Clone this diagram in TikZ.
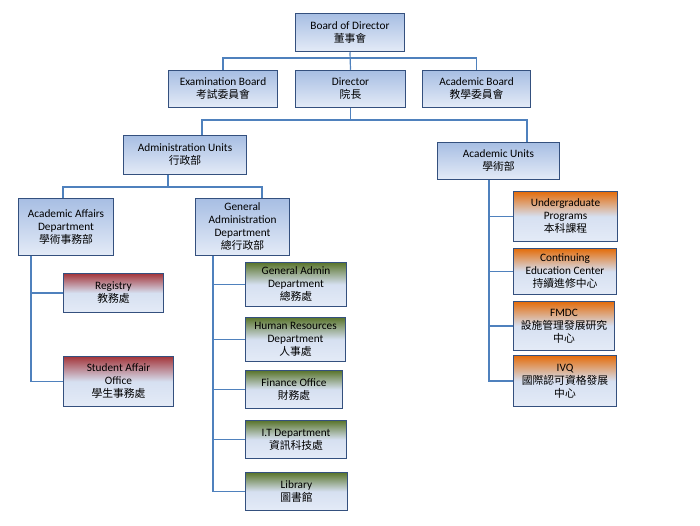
\documentclass[tikz,border=0pt]{standalone}
\usepackage{fontspec}
\setmainfont{Carlito}
\newfontfamily\cjk{Noto Sans CJK TC}
\usetikzlibrary{positioning}
\usetikzlibrary{calc}

\definecolor{boxline}{HTML}{34507E}
\definecolor{linkc}{HTML}{4F81BD}
\definecolor{boxhigh}{HTML}{A7BEE3}
\definecolor{boxmid}{HTML}{D6E0F1}
\definecolor{boxlow}{HTML}{E4EBF7}
\definecolor{redc}{HTML}{A4363B}
\definecolor{greenc}{HTML}{5A752C}
\definecolor{orangec}{HTML}{E46C0A}

\pgfdeclareverticalshading{bluefade}{100bp}{color(0bp)=(boxlow); color(25bp)=(boxlow); color(75bp)=(boxhigh); color(100bp)=(boxhigh)}
\pgfdeclareverticalshading{redfade}{100bp}{color(0bp)=(boxlow); color(25bp)=(boxlow); color(50bp)=(boxmid); color(75bp)=(redc); color(100bp)=(redc)}
\pgfdeclareverticalshading{greenfade}{100bp}{color(0bp)=(boxlow); color(25bp)=(boxlow); color(50bp)=(boxmid); color(75bp)=(greenc); color(100bp)=(greenc)}
\pgfdeclareverticalshading{orangefade}{100bp}{color(0bp)=(boxlow); color(25bp)=(boxlow); color(50bp)=(boxmid); color(75bp)=(orangec); color(100bp)=(orangec)}

\newcommand\zh[1]{{\cjk\fontsize{10.8}{13}\selectfont #1}}

\begin{document}
\begin{tikzpicture}[x=1pt, y=-1pt,
                    unit/.style={draw=boxline, line width=1.5pt, shading=bluefade, align=center, inner sep=1pt,
                                 font=\fontsize{11.3}{13}\selectfont},
                    size/.style 2 args={minimum width=#1pt, minimum height=#2pt},
                    red/.style={shading=redfade},
                    green/.style={shading=greenfade},
                    orange/.style={shading=orangefade},
                    link/.style={draw=linkc, line width=1.2pt}]
    \useasboundingbox (0,0) rectangle (700,525);

    % top levels
    \path
        node[unit, size={109}{38}] (board) at (350,32.5) {Board of Director\\\zh{董事會}}
        node[unit, size={109}{37}] (exam) at (223,89) {Examination Board\\\zh{考試委員會}}
        node[unit, size={110}{37}] (director) at (350.5,89) {Director\\\zh{院長}}
        node[unit, size={108}{37}] (acboard) at (476.5,89) {Academic Board\\\zh{教學委員會}}
        node[unit, size={123}{39}] (admin) at (185,155) {Administration Units\\\zh{行政部}}
        node[unit, size={122}{37}] (acunits) at (498.5,161) {Academic Units\\\zh{學術部}};

    % administration
    \path
        node[unit, size={95}{57}] (acaff) at (66,227) {Academic Affairs\\Department\\\zh{學術事務部}}
        node[unit, size={94}{57}] (genadm) at (242.5,227) {General\\Administration\\Department\\\zh{總行政部}}
        node[unit, red, size={100}{39}] (registry) at (113.5,293) {Registry\\\zh{教務處}}
        node[unit, red, size={110}{50}] (student) at (118.5,381.5) {Student Affair\\Office\\\zh{學生事務處}}
        node[unit, green, size={101}{44}] (gad) at (296,284.5) {General Admin\\Department\\\zh{總務處}}
        node[unit, green, size={100}{44}] (hr) at (295.5,339.5) {Human Resources\\Department\\\zh{人事處}}
        node[unit, green, size={97}{38}] (fin) at (294,389.5) {Finance Office\\\zh{財務處}}
        node[unit, green, size={101}{38}] (it) at (296,439.5) {I.T Department\\\zh{資訊科技處}}
        node[unit, green, size={102}{38}] (lib) at (296.5,491.5) {Library\\\zh{圖書館}};

    % academic
    \path
        node[unit, orange, size={104}{50}] (ug) at (565.5,216.5) {Undergraduate\\Programs\\\zh{本科課程}}
        node[unit, orange, size={103}{46}] (ce) at (565,271.5) {Continuing\\Education Center\\\zh{持續進修中心}}
        node[unit, orange, size={101}{49}] (fmdc) at (564,326) {FMDC\\\zh{設施管理發展研究}\\\zh{中心}}
        node[unit, orange, size={103}{51}] (ivq) at (565,381) {IVQ\\\zh{國際認可資格發展}\\\zh{中心}};

    \coordinate (bus1) at (0,58);
    \coordinate (bus2) at (0,120);
    \coordinate (bus3) at (0,187);
    \coordinate (affspine) at (31,0);
    \coordinate (genspine) at (213,0);
    \coordinate (acspine) at (489,0);

    % connectors
    \draw[link] (exam.north) |- (bus1 -| board) -| (acboard.north);
    \draw[link] (board.south) -- (director.north);
    \draw[link] (director.south) -- (bus2 -| director);
    \draw[link] ($(admin.north)+(17,0)$) |- (bus2 -| director) -| ($(acunits.north)+(28.5,0)$);
    \draw[link] ($(admin.south)+(-17,0)$) -- ($(bus3 -| admin)+(-17,0)$);
    \draw[link] ($(acaff.north)+(-3,0)$) |- (bus3 -| admin) -| ($(genadm.north)+(19.5,0)$);
    \draw[link] (acaff.south -| affspine) |- (student.west);
    \draw[link] (registry.west) -- (registry.west -| affspine);
    \draw[link] (genadm.south -| genspine) |- (lib.west);
    \foreach \n in {gad, hr, fin, it}
        \draw[link] (\n.west) -- (\n.west -| genspine);
    \draw[link] (acunits.south -| acspine) |- (ivq.west);
    \foreach \n in {ug, ce, fmdc}
        \draw[link] (\n.west) -- (\n.west -| acspine);
\end{tikzpicture}
\end{document}
